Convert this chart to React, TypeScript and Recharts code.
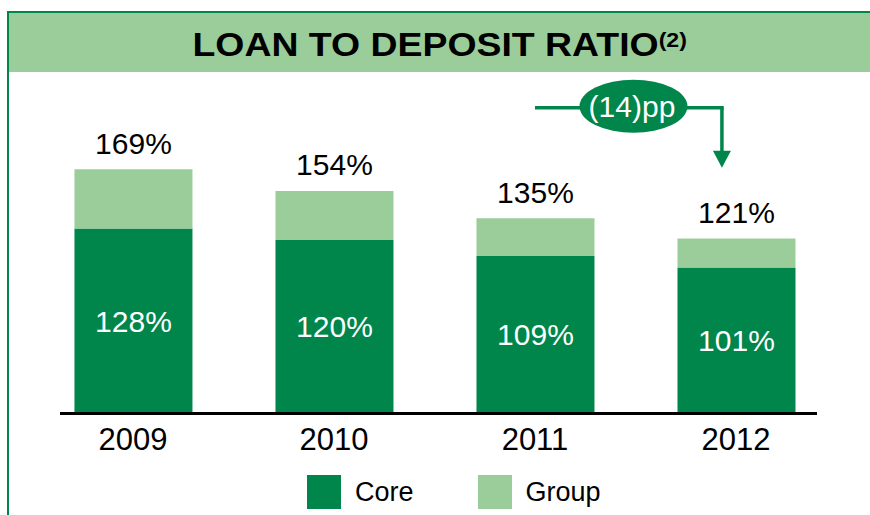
import {
  Bar,
  BarChart,
  LabelList,
  ReferenceDot,
  ReferenceLine,
  XAxis,
  YAxis,
} from 'recharts';

const years = ['2009', '2010', '2011', '2012'];
const coreRatio = [128, 120, 109, 101];
const groupRatio = [169, 154, 135, 121];
const seriesNames = ['Core', 'Group'];

// change badge between 2011 and 2012
const changeLabel = '(14)pp';
const changeFrom = 2; // index of 2011
const changeTo = 2.93; // just left of the 2012 total label
const changeLevel = 211.5;
const changeTip = 170;

const DARK = '#00854B';
const LIGHT = '#9BCD9A';
const FONT = '"Liberation Sans", Arial, sans-serif';

const chartData = years.map((year, i) => ({
  idx: i,
  year,
  core: coreRatio[i],
  extra: groupRatio[i] - coreRatio[i],
  total: groupRatio[i],
}));

function TopLabel(props: any) {
  const { x, y, width, value } = props;
  return (
    <text
      x={Number(x) + Number(width) / 2}
      y={Number(y) - 15.5}
      textAnchor="middle"
      fontSize={30}
      fontFamily={FONT}
      fill="#000"
    >
      {value}%
    </text>
  );
}

function InnerLabel(props: any) {
  const { x, y, width, height, value } = props;
  return (
    <text
      x={Number(x) + Number(width) / 2}
      y={Number(y) + Number(height) / 2 + 10.7}
      textAnchor="middle"
      fontSize={30}
      fontFamily={FONT}
      fill="#fff"
    >
      {value}%
    </text>
  );
}

function Badge(props: any) {
  const { cx, cy } = props;
  return (
    <g>
      <ellipse cx={cx} cy={cy} rx={54} ry={26.5} fill={DARK} />
      <text
        x={cx - 1.5}
        y={cy + 11}
        textAnchor="middle"
        fontSize={30}
        fontFamily={FONT}
        fill="#fff"
      >
        {changeLabel}
      </text>
    </g>
  );
}

function ArrowHead(props: any) {
  const { cx, cy } = props;
  return (
    <polygon
      points={`${cx - 9},${cy - 17} ${cx + 9},${cy - 17} ${cx},${cy}`}
      fill={DARK}
    />
  );
}

export default function App() {
  return (
    <div
      style={{
        position: 'absolute',
        top: 0,
        left: 0,
        width: 870,
        height: 515,
        background: '#fff',
        overflow: 'hidden',
        fontFamily: FONT,
      }}
    >
      {/* frame */}
      <div style={{ position: 'absolute', left: 7, top: 11, width: 2, height: 504, background: DARK }} />
      <div style={{ position: 'absolute', left: 7, top: 11, right: 0, height: 2, background: DARK }} />
      <div
        style={{
          position: 'absolute',
          left: 9,
          top: 13,
          right: 0,
          height: 59,
          background: LIGHT,
          display: 'flex',
          alignItems: 'center',
          justifyContent: 'center',
          paddingTop: 4,
          boxSizing: 'border-box',
        }}
      >
        <span
          style={{
            display: 'inline-block',
            transform: 'scaleX(1.1)',
            fontSize: 34,
            fontWeight: 'bold',
            color: '#000',
            whiteSpace: 'nowrap',
          }}
        >
          LOAN TO DEPOSIT RATIO
          <span style={{ fontSize: 21, verticalAlign: 9 }}>(2)</span>
        </span>
      </div>

      <div style={{ position: 'absolute', left: 0, top: 0 }}>
        <BarChart
          width={870}
          height={515}
          data={chartData}
          margin={{ top: 95.5, right: 53, bottom: 61.5, left: 60 }}
        >
          <XAxis
            type="number"
            dataKey="idx"
            domain={[-0.363, 3.403]}
            allowDataOverflow
            ticks={[0, 1, 2, 3]}
            interval={0}
            tickFormatter={(i: number) => years[i]}
            axisLine={{ stroke: '#000', strokeWidth: 3 }}
            tickLine={false}
            tick={{ fill: '#000', fontSize: 31, fontFamily: FONT }}
            tickMargin={8}
            height={40}
          />
          <YAxis hide domain={[0, 220]} allowDataOverflow />
          <Bar dataKey="core" name={seriesNames[0]} stackId="a" fill={DARK} barSize={118} isAnimationActive={false}>
            <LabelList dataKey="core" content={InnerLabel} />
          </Bar>
          <Bar dataKey="extra" name={seriesNames[1]} stackId="a" fill={LIGHT} barSize={118} isAnimationActive={false}>
            <LabelList dataKey="total" content={TopLabel} />
          </Bar>
          <ReferenceLine
            segment={[
              { x: changeFrom, y: changeLevel },
              { x: changeTo + 0.009, y: changeLevel },
            ]}
            stroke={DARK}
            strokeWidth={3.5}
            ifOverflow="visible"
          />
          <ReferenceLine
            segment={[
              { x: changeTo, y: changeLevel },
              { x: changeTo, y: changeTip + 10 },
            ]}
            stroke={DARK}
            strokeWidth={3.5}
            ifOverflow="visible"
          />
          <ReferenceDot x={changeTo} y={changeTip} ifOverflow="visible" shape={ArrowHead} />
          <ReferenceDot x={2.49} y={changeLevel + 1} ifOverflow="visible" shape={Badge} />
        </BarChart>
      </div>

      {/* legend */}
      <div
        style={{
          position: 'absolute',
          left: 307,
          top: 475,
          height: 34,
          display: 'flex',
          alignItems: 'center',
          fontSize: 27,
          color: '#000',
        }}
      >
        {seriesNames.map((name, i) => (
          <div key={name} style={{ display: 'flex', alignItems: 'center', marginLeft: i === 0 ? 0 : 64 }}>
            <div style={{ width: 34, height: 34, background: i === 0 ? DARK : LIGHT }} />
            <span style={{ marginLeft: 14 }}>{name}</span>
          </div>
        ))}
      </div>
    </div>
  );
}
